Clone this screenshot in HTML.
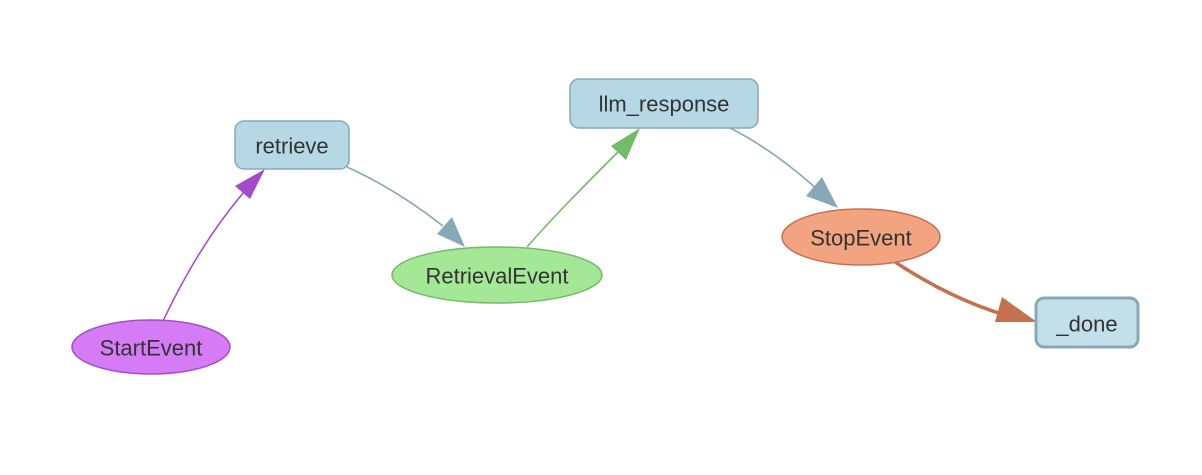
<!DOCTYPE html>
<html><head><meta charset="utf-8"><style>
html,body{margin:0;padding:0;background:#fff;}
svg text{font-family:"Liberation Sans",Arial,sans-serif;font-size:22px;fill:#333;text-anchor:middle;dominant-baseline:central;}
</style></head><body>
<svg width="1202" height="470" viewBox="0 0 1202 470" xmlns="http://www.w3.org/2000/svg">
<!-- edges -->
<path d="M163,321 C185,275 210,232 244,192" fill="none" stroke="#a24ccb" stroke-width="1.6"/>
<polygon points="265,169 235,186 250,199" fill="#a24ccb"/>
<path d="M347,167 C380,182 410,200 443,226" fill="none" stroke="#87a9b7" stroke-width="1.6"/>
<polygon points="465,247 437,234 452,217" fill="#87a9b7"/>
<path d="M527,247 C555,215 585,185 620,150" fill="none" stroke="#74ba69" stroke-width="1.6"/>
<polygon points="640,128 611,146 626,160" fill="#74ba69"/>
<path d="M730,128 C760,143 790,165 818,190" fill="none" stroke="#87a9b7" stroke-width="1.6"/>
<polygon points="838,208 806,196 822,177" fill="#87a9b7"/>
<path d="M895,262 C930,285 965,303 1005,315" fill="none" stroke="#c4714f" stroke-width="3.5"/>
<polygon points="1037,322 1002,297 995,322" fill="#c4714f"/>
<!-- nodes -->
<rect x="235" y="121" width="114" height="48" rx="9" fill="#b5d8e4" stroke="#87a9b7" stroke-width="1.5"/>
<text x="292" y="146">retrieve</text>
<ellipse cx="151" cy="347" rx="79" ry="27" fill="#d57bf5" stroke="#a24ccb" stroke-width="1.5"/>
<text x="151" y="348">StartEvent</text>
<ellipse cx="497" cy="275" rx="105" ry="28" fill="#a4e897" stroke="#74ba69" stroke-width="1.5"/>
<text x="497" y="276">RetrievalEvent</text>
<rect x="570" y="79" width="188" height="49" rx="9" fill="#b5d8e4" stroke="#87a9b7" stroke-width="1.5"/>
<text x="664" y="104">llm_response</text>
<ellipse cx="861" cy="237" rx="79" ry="28" fill="#f2a481" stroke="#c4714f" stroke-width="1.5"/>
<text x="861" y="238">StopEvent</text>
<rect x="1036" y="298" width="102" height="49" rx="8" fill="#c3dfe9" stroke="#87a9b7" stroke-width="3"/>
<text x="1087" y="324">_done</text>
</svg>
</body></html>
